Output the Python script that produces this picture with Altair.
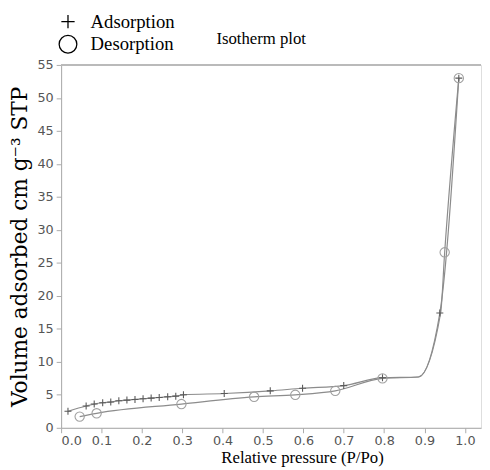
import altair as alt
import pandas as pd

# Adsorption branch (relative pressure, volume) - marked points
ads_p = [0.017, 0.062, 0.082, 0.103, 0.123, 0.143, 0.163, 0.183, 0.203, 0.223,
         0.243, 0.264, 0.284, 0.303, 0.404, 0.518, 0.598, 0.700, 0.796, 0.938, 0.985]
ads_v = [2.5, 3.3, 3.6, 3.8, 3.9, 4.1, 4.2, 4.3, 4.4, 4.5,
         4.6, 4.7, 4.8, 5.0, 5.2, 5.6, 6.0, 6.4, 7.6, 17.4, 53.0]

# Desorption branch - marked points
des_p = [0.046, 0.088, 0.298, 0.478, 0.580, 0.679, 0.796, 0.950, 0.985]
des_v = [1.7, 2.2, 3.6, 4.7, 5.0, 5.6, 7.5, 26.6, 53.0]

# Unmarked waypoints of the drawn curves (plateau / hysteresis closure)
ads_line_p = [0.885]
ads_line_v = [7.7]
des_line_p = [0.885, 0.940]
des_line_v = [7.7, 17.4]

series_names = ["Adsorption", "Desorption"]
x_ticks = [0.0, 0.1, 0.2, 0.3, 0.4, 0.5, 0.6, 0.7, 0.8, 0.9, 1.0]
y_ticks = [0, 5, 10, 15, 20, 25, 30, 35, 40, 45, 50, 55]

rows = []
for p, v in zip(ads_p, ads_v):
    rows.append({"p": p, "v": v, "series": series_names[0], "marked": True})
for p, v in zip(ads_line_p, ads_line_v):
    rows.append({"p": p, "v": v, "series": series_names[0], "marked": False})
for p, v in zip(des_p, des_v):
    rows.append({"p": p, "v": v, "series": series_names[1], "marked": True})
for p, v in zip(des_line_p, des_line_v):
    rows.append({"p": p, "v": v, "series": series_names[1], "marked": False})
df = pd.DataFrame(rows).sort_values(["series", "p"]).reset_index(drop=True)

W, H = 427, 369
serif = "Liberation Serif"
sans = "DejaVu Sans"

x_axis = alt.Axis(values=x_ticks, format=".1f", title="Relative pressure (P/Po)",
                  titleFont=serif, titleFontSize=17, titleFontWeight="normal",
                  titleColor="black", titleX=245, titlePadding=2,
                  labelFont=sans, labelFontSize=13, labelColor="#555", labelOverlap=False,
                  domainColor="#aaa", tickColor="#aaa", tickSize=5, grid=False,
                  labelPadding=2)
y_axis = alt.Axis(values=y_ticks, title="Volume adsorbed cm g\u207b\u00b3 STP",
                  titleFont="DejaVu Serif", titleFontSize=22, titleFontWeight="normal",
                  titleColor="black", titlePadding=6,
                  labelFont=sans, labelFontSize=13, labelColor="#555", labelOverlap=False,
                  domainColor="#aaa", tickColor="#aaa", tickSize=5, grid=False,
                  labelPadding=3)

x_enc = alt.X("p:Q", scale=alt.Scale(domain=[0, 1.04], nice=False), axis=x_axis)
y_enc = alt.Y("v:Q", scale=alt.Scale(domain=[0, 55], nice=False), axis=y_axis)

lines = alt.Chart(df).mark_line(interpolate="monotone", color="#8c8c8c", strokeWidth=1.2).encode(
    x=x_enc, y=y_enc, detail="series:N", order="p:Q")

pts = alt.Chart(df).transform_filter("datum.marked").mark_point(
    filled=False, size=90, strokeWidth=1.1, opacity=1).encode(
    x=x_enc, y=y_enc,
    shape=alt.Shape("series:N",
                    scale=alt.Scale(domain=series_names,
                                    range=["M-0.75,0H0.75M0,-0.75V0.75", "circle"]),
                    legend=alt.Legend(title=None, orient="none", legendX=-3, legendY=-54,
                                      symbolSize=324, symbolStrokeColor="black",
                                      symbolFillColor="transparent", symbolStrokeWidth=1.3,
                                      labelFont=serif, labelFontSize=19, labelColor="black",
                                      labelOffset=13, rowPadding=1, padding=0)),
    stroke=alt.condition("datum.series == 'Adsorption'", alt.value("#5a5a5a"), alt.value("#a0a0a0")))

border = alt.Chart(df).mark_rule(color="#bbbbbb", strokeWidth=1).encode(
    x=alt.value(0), x2=alt.value(W), y=alt.value(0))

chart = alt.layer(lines, pts, border).properties(
    width=W, height=H,
    title=alt.TitleParams("Isotherm plot", font=serif, fontSize=17, fontWeight="normal",
                          color="black", anchor="middle", dx=-10, dy=47, offset=10),
    autosize=alt.AutoSizeParams(type="none"),
    padding={"left": 54, "top": 54, "right": 1, "bottom": 39},
).configure_view(stroke=None).configure(background="white")

chart.save("out.html", embed_options={"renderer": "svg", "actions": False})
